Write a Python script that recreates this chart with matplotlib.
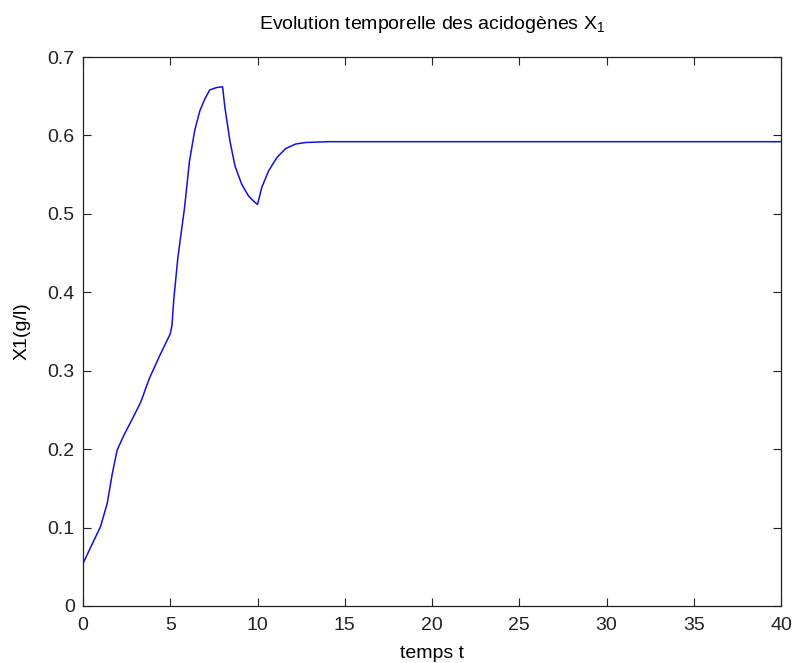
import matplotlib
matplotlib.use("Agg")
import matplotlib.pyplot as plt

plt.rcParams['font.family'] = ['Liberation Sans', 'DejaVu Sans']
plt.rcParams['mathtext.fontset'] = 'custom'
plt.rcParams['mathtext.rm'] = 'Liberation Sans'

t = [0, 0.42, 1.0, 1.39, 1.68, 1.96, 2.35, 2.93, 3.31, 3.80, 4.37, 5.0, 5.1, 5.2,
     5.43, 5.82, 6.1, 6.4, 6.69, 6.97, 7.26, 7.65, 8.0, 8.13, 8.42, 8.71, 9.09,
     9.48, 9.83, 10.0, 10.25, 10.64, 11.12, 11.6, 12.18, 12.76, 14.1, 20, 30, 40]
x1 = [0.054, 0.074, 0.101, 0.131, 0.169, 0.199, 0.218, 0.243, 0.260, 0.290, 0.318,
      0.347, 0.358, 0.39, 0.443, 0.508, 0.567, 0.606, 0.631, 0.646, 0.658, 0.661,
      0.662, 0.636, 0.593, 0.561, 0.538, 0.523, 0.515, 0.512, 0.534, 0.555, 0.572,
      0.583, 0.589, 0.591, 0.592, 0.592, 0.592, 0.592]

xticks = [0, 5, 10, 15, 20, 25, 30, 35, 40]
yticks = [0, 0.1, 0.2, 0.3, 0.4, 0.5, 0.6, 0.7]

W, H = 792, 663
fig = plt.figure(figsize=(W / 100, H / 100), dpi=100)
ax = fig.add_axes([83 / W, 1 - 606 / H, (781 - 83) / W, (606 - 57) / H])
ax.plot(t, x1, color='#1010e0', lw=1.1)
ax.set_xlim(0, 40)
ax.set_ylim(0, 0.7)
ax.set_xticks(xticks)
ax.set_xticklabels([str(v) for v in xticks])
ax.set_yticks(yticks)
ax.set_yticklabels(['0' if v == 0 else f'{v:g}' for v in yticks])
ax.tick_params(direction='in', length=6, width=0.8, top=True, right=True,
               labelsize=14, colors='#222222')
ax.tick_params(axis='x', pad=8)
ax.tick_params(axis='y', pad=6)
for s in ax.spines.values():
    s.set_linewidth(0.9)
    s.set_color('#222222')
ax.set_xlabel('temps t', fontsize=14, labelpad=8)
ax.set_ylabel('X1(g/l)', fontsize=14, labelpad=12)
ax.set_title('Evolution temporelle des acidogènes X$_{\\mathregular{1}}$',
             fontsize=14, pad=20)
fig.savefig('out.png', dpi=100)
